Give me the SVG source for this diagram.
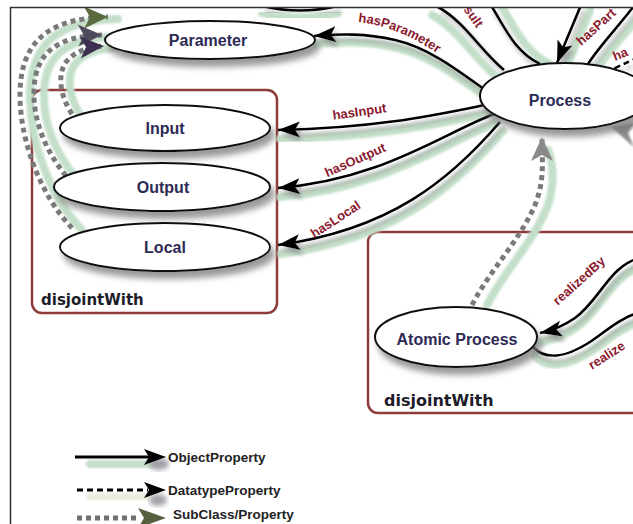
<svg xmlns="http://www.w3.org/2000/svg" xmlns:xlink="http://www.w3.org/1999/xlink" width="633" height="524" viewBox="0 0 633 524">
<style>
.node{fill:#fff;stroke:#111;stroke-width:2;filter:url(#nshadow)}
.nlab{font-family:"Liberation Sans",Arial,sans-serif;font-weight:bold;font-size:16px;fill:#2d2a55;text-anchor:middle}
.elab{font-family:"Liberation Sans",Arial,sans-serif;font-weight:bold;font-size:13px;fill:#8b1a2e}
.box{fill:none;stroke:#8e3b3b;stroke-width:2.5}
.dj{font-family:"DejaVu Sans",Verdana,sans-serif;font-weight:bold;font-size:15px;fill:#1d1d2a}
.edge{fill:none;stroke:#000;stroke-width:2.6;filter:url(#eshadow)}
.dash{stroke-dasharray:6 4}
.green{fill:none;stroke:#c3dfc9;stroke-width:8;stroke-linecap:round;filter:url(#soft)}
.sub{fill:none;stroke:#7a7a7a;stroke-width:5;stroke-dasharray:5 4}
.leg{font-family:"Liberation Sans",Arial,sans-serif;font-weight:bold;font-size:13.5px;fill:#222}
.frame{stroke:#333;stroke-width:1.5;fill:none}
</style>
<defs>
<filter id="nshadow" x="-20%" y="-30%" width="150%" height="180%">
<feDropShadow dx="4" dy="7" stdDeviation="3" flood-color="#777" flood-opacity="0.75"/>
</filter>
<filter id="eshadow" x="-20%" y="-20%" width="140%" height="160%">
<feDropShadow dx="3" dy="5" stdDeviation="2.2" flood-color="#8c8c8c" flood-opacity="0.75"/>
</filter>
<filter id="soft"><feGaussianBlur stdDeviation="1.2"/></filter>
<filter id="blob"><feGaussianBlur stdDeviation="2.5"/></filter>
<marker id="ah" markerUnits="userSpaceOnUse" viewBox="0 0 26 20" markerWidth="26" markerHeight="20" refX="24" refY="10" orient="auto">
<path d="M2,2 L24,10 L2,18 L7,10 z" fill="#000"/>
</marker>
<marker id="sg" markerUnits="userSpaceOnUse" viewBox="0 0 26 24" markerWidth="26" markerHeight="24" refX="25" refY="12" orient="auto">
<path d="M1,1 L25,12 L1,23 L7,12 z" fill="#8a8a8a"/>
</marker>
<marker id="sgO" markerUnits="userSpaceOnUse" viewBox="0 0 26 24" markerWidth="26" markerHeight="24" refX="25" refY="12" orient="auto">
<path d="M1,1 L25,12 L1,23 L7,12 z" fill="#5b6a40"/>
</marker>
<marker id="sgD" markerUnits="userSpaceOnUse" viewBox="0 0 26 24" markerWidth="26" markerHeight="24" refX="25" refY="12" orient="auto">
<path d="M1,1 L25,12 L1,23 L7,12 z" fill="#4e4c5c"/>
</marker>
<marker id="sgP" markerUnits="userSpaceOnUse" viewBox="0 0 26 24" markerWidth="26" markerHeight="24" refX="25" refY="12" orient="auto">
<path d="M1,1 L25,12 L1,23 L7,12 z" fill="#3e3050"/>
</marker>
<path id="p-param" d="M488 92 C460 72, 430 48, 395 40 C365 33, 340 34, 314 36"/>
<path id="p-in" d="M490 104 C440 114, 380 128, 278 130"/>
<path id="p-out" d="M494 114 C440 135, 380 180, 278 188"/>
<path id="p-loc" d="M500 122 C450 180, 390 230, 278 245"/>
<path id="p-rb" d="M640 258 C610 265, 600 300, 575 318 C565 325, 555 330, 540 333"/>
<path id="p-rz" d="M533 347 C545 360, 565 358, 590 342 C605 332, 620 318, 640 312"/>
<path id="p-a" d="M438 7 C465 22, 480 50, 504 70"/>
<path id="p-b" d="M492 7 C505 28, 515 52, 540 64"/>
<path id="p-part" d="M581 5 C573 25, 566 40, 557 63"/>
<path id="p-c" d="M637 2 C620 25, 600 45, 588 64"/>
<path id="p-top" d="M262 6 Q300 15, 338 6"/>
<path id="p-s1" d="M72 228 C40 195, 20 140, 20 95 C20 45, 45 18, 108 17"/>
<path id="p-s2" d="M66 176 C45 150, 33 120, 34 90 C35 55, 55 36, 102 35"/>
<path id="p-s3" d="M72 114 C60 96, 57 75, 66 62 C75 51, 88 47, 104 46"/>
<path id="tp-param" d="M358 22 C388 25, 418 38, 452 64"/>
<clipPath id="clip"><rect x="10" y="7" width="623" height="517"/></clipPath>
</defs>

<g clip-path="url(#clip)">
<g id="boxes">
<rect class="box" x="32" y="90" width="245" height="223" rx="10"/>
<rect class="box" x="368" y="232" width="300" height="181" rx="10"/>
<text class="dj" x="41" y="305">disjointWith</text>
<text class="dj" x="384" y="406" style="font-size:16px">disjointWith</text>
</g>

<g id="connectors">
<use xlink:href="#p-param" class="green" transform="translate(2,8)"/>
<use xlink:href="#p-in" class="green" transform="translate(2,9)"/>
<use xlink:href="#p-out" class="green" transform="translate(2,9)"/>
<use xlink:href="#p-loc" class="green" transform="translate(3,9)"/>
<use xlink:href="#p-rb" class="green" transform="translate(2,9)"/>
<use xlink:href="#p-rz" class="green" transform="translate(2,9)"/>
<use xlink:href="#p-a" class="green" transform="translate(-6,8)"/>
<use xlink:href="#p-b" class="green" transform="translate(10,0)"/>
<use xlink:href="#p-part" class="green" transform="translate(10,3)"/>
<use xlink:href="#p-c" class="green" transform="translate(10,4)"/>
<use xlink:href="#p-top" class="green" transform="translate(0,7)"/>
<use xlink:href="#p-s1" class="green" transform="translate(10,2)"/>
<use xlink:href="#p-s2" class="green" transform="translate(10,2)"/>
<use xlink:href="#p-s3" class="green" transform="translate(9,2)"/>
<path class="green" d="M487 305 C505 270, 535 240, 548 205 C556 180, 552 160, 548 150"/>

<use xlink:href="#p-top" class="edge"/>
<use xlink:href="#p-param" class="edge" marker-end="url(#ah)"/>
<use xlink:href="#p-in" class="edge" marker-end="url(#ah)"/>
<use xlink:href="#p-out" class="edge" marker-end="url(#ah)"/>
<use xlink:href="#p-loc" class="edge" marker-end="url(#ah)"/>
<use xlink:href="#p-rb" class="edge" marker-end="url(#ah)"/>
<use xlink:href="#p-rz" class="edge"/>
<use xlink:href="#p-a" class="edge"/>
<use xlink:href="#p-b" class="edge"/>
<use xlink:href="#p-part" class="edge" marker-end="url(#ah)"/>
<use xlink:href="#p-c" class="edge"/>
<path class="edge dash" d="M606 73 Q620 65, 640 57"/>

<use xlink:href="#p-s1" class="sub" marker-end="url(#sgO)"/>
<use xlink:href="#p-s2" class="sub" marker-end="url(#sgD)"/>
<use xlink:href="#p-s3" class="sub" marker-end="url(#sgP)"/>
<path class="sub" d="M472 305 C490 270, 520 240, 535 205 C545 180, 542 160, 542 137" marker-end="url(#sg)"/>
<polygon points="611,127 636,122 628,133 634,147" fill="#8a8a8a" filter="url(#soft)"/>

<text class="elab"><textPath xlink:href="#tp-param">hasParameter</textPath></text>
<text class="elab" text-anchor="middle" transform="translate(360,116) rotate(-8)">hasInput</text>
<text class="elab" text-anchor="middle" transform="translate(357,164) rotate(-24)">hasOutput</text>
<text class="elab" text-anchor="middle" transform="translate(338,223) rotate(-33)">hasLocal</text>
<text class="elab" text-anchor="middle" transform="translate(582,284) rotate(-42)">realizedBy</text>
<text class="elab" transform="translate(592,370) rotate(-33)">realize</text>
<text class="elab" text-anchor="middle" transform="translate(470,19) rotate(55)">sult</text>
<text class="elab" text-anchor="middle" transform="translate(599,30) rotate(-42)">hasPart</text>
<text class="elab" transform="translate(615,61) rotate(-22)">ha</text>
</g>

<g id="node-parameter">
<ellipse class="node" cx="210" cy="40" rx="105" ry="19"/>
<text class="nlab" x="208" y="46">Parameter</text>
</g>
<g id="node-input">
<ellipse class="node" cx="165" cy="128" rx="105" ry="23"/>
<text class="nlab" x="165" y="134">Input</text>
</g>
<g id="node-output">
<ellipse class="node" cx="162" cy="187" rx="108" ry="24"/>
<text class="nlab" x="163" y="193">Output</text>
</g>
<g id="node-local">
<ellipse class="node" cx="165" cy="247" rx="105" ry="24"/>
<text class="nlab" x="165" y="253">Local</text>
</g>
<g id="node-process">
<ellipse class="node" cx="565" cy="96" rx="85" ry="33"/>
<text class="nlab" x="560" y="106">Process</text>
</g>
<g id="node-atomic">
<ellipse class="node" cx="456" cy="337" rx="81" ry="30"/>
<text class="nlab" x="457" y="345">Atomic Process</text>
</g>

<g id="legend">
<rect x="86" y="460" width="72" height="8" rx="4" fill="#c3dfc9" filter="url(#soft)"/>
<ellipse cx="159" cy="464" rx="10" ry="6" fill="#a0a0a8" filter="url(#blob)"/>
<line x1="75" y1="457" x2="150" y2="457" stroke="#000" stroke-width="3"/>
<polygon points="144,449 166,457 144,465 149,457" fill="#000"/>
<text class="leg" x="168" y="462">ObjectProperty</text>
<rect x="86" y="493" width="66" height="7" rx="3" fill="#e9efdc" filter="url(#soft)"/>
<ellipse cx="158" cy="500" rx="9" ry="6" fill="#a0a0a8" filter="url(#blob)"/>
<line x1="77" y1="490" x2="148" y2="490" stroke="#000" stroke-width="3" stroke-dasharray="6 4"/>
<polygon points="144,482 166,490 144,498 149,490" fill="#000"/>
<text class="leg" x="168" y="495">DatatypeProperty</text>
<line x1="77" y1="518" x2="138" y2="518" stroke="#707070" stroke-width="5" stroke-dasharray="5 4"/>
<polygon points="138,508 166,518 138,528 144,518" fill="#56603e"/>
<text class="leg" x="173" y="519">SubClass/Property</text>
</g>
</g>

<path class="frame" d="M10.5 524 V7.5 H633"/>
</svg>
